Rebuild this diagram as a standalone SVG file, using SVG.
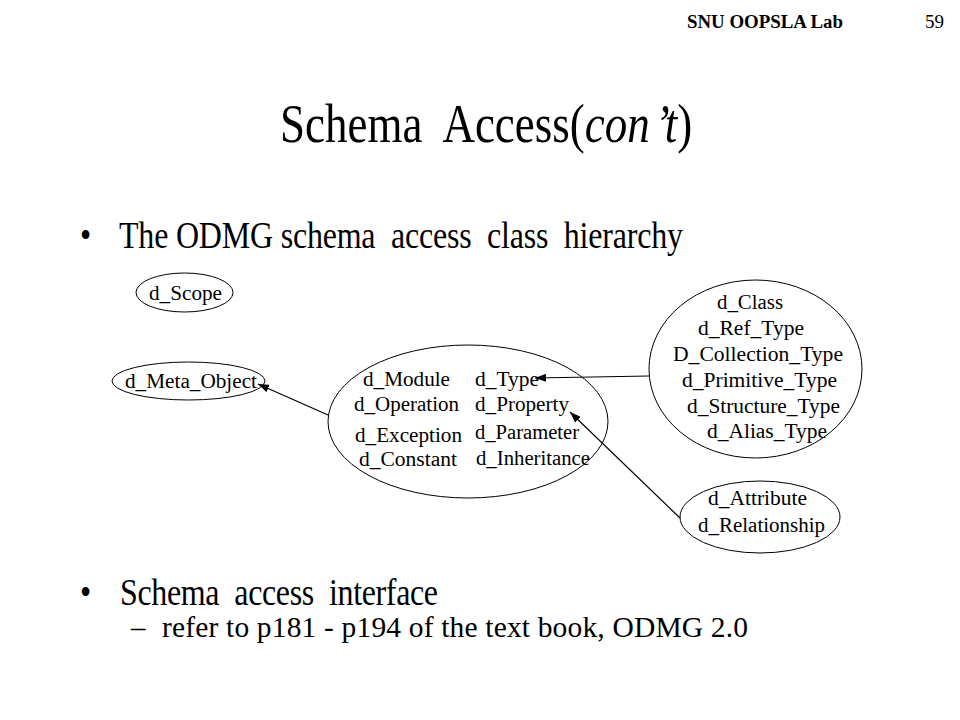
<svg xmlns="http://www.w3.org/2000/svg" width="960" height="720" viewBox="0 0 960 720">
<style>
text{font-family:"Liberation Serif","Times New Roman",serif;fill:#000}
.n{font-size:20px}
.node ellipse{fill:none;stroke:#000;stroke-width:1}
.edge{fill:none;stroke:#000;stroke-width:1.2}
</style>
<defs>
<marker id="ah" markerUnits="userSpaceOnUse" markerWidth="12" markerHeight="8" refX="11" refY="4" orient="auto">
<path d="M0,0 L11,4 L0,8 z" fill="#000"/>
</marker>
</defs>
<rect width="960" height="720" fill="#fff"/>
<text x="687" y="28" font-size="18" font-weight="bold" textLength="156" lengthAdjust="spacingAndGlyphs">SNU OOPSLA Lab</text>
<text x="925" y="28" font-size="19">59</text>
<text transform="translate(280,142) scale(1,1.24)" x="0" y="0" font-size="45" xml:space="preserve">Schema  Access(<tspan font-style="italic">con<tspan dx="5">’t</tspan></tspan>)</text>
<text transform="translate(80,248) scale(1,1.2)" x="0" y="0" font-size="32">•</text>
<text transform="translate(119,248) scale(1,1.2)" x="0" y="0" font-size="32" textLength="564" lengthAdjust="spacing" xml:space="preserve">The ODMG schema  access  class  hierarchy</text>
<text transform="translate(80,605) scale(1,1.2)" x="0" y="0" font-size="32">•</text>
<text transform="translate(120,605) scale(1,1.2)" x="0" y="0" font-size="32" textLength="318" lengthAdjust="spacing" xml:space="preserve">Schema  access  interface</text>
<text x="131" y="637" font-size="29">–</text>
<text x="162" y="637" font-size="29.5" textLength="586" lengthAdjust="spacing">refer to p181 - p194 of the text book, ODMG 2.0</text>

<g id="d_Scope" class="node">
<ellipse cx="184.5" cy="292.5" rx="48.5" ry="19.5"/>
<text class="n" x="149" y="300" textLength="73" lengthAdjust="spacingAndGlyphs">d_Scope</text>
</g>
<g id="d_Meta_Object" class="node">
<ellipse cx="188.5" cy="381" rx="76.5" ry="19"/>
<text class="n" x="125" y="388" textLength="132" lengthAdjust="spacingAndGlyphs">d_Meta_Object</text>
</g>
<g id="core" class="node">
<ellipse cx="468" cy="421.5" rx="140" ry="76.5"/>
<text class="n" x="363" y="386" textLength="87" lengthAdjust="spacingAndGlyphs">d_Module</text>
<text class="n" x="475" y="386" textLength="64" lengthAdjust="spacingAndGlyphs">d_Type</text>
<text class="n" x="354" y="411" textLength="105" lengthAdjust="spacingAndGlyphs">d_Operation</text>
<text class="n" x="475" y="411" textLength="94" lengthAdjust="spacingAndGlyphs">d_Property</text>
<text class="n" x="355" y="442" textLength="107" lengthAdjust="spacingAndGlyphs">d_Exception</text>
<text class="n" x="475" y="439" textLength="104" lengthAdjust="spacingAndGlyphs">d_Parameter</text>
<text class="n" x="359" y="466" textLength="98" lengthAdjust="spacingAndGlyphs">d_Constant</text>
<text class="n" x="476" y="465" textLength="114" lengthAdjust="spacingAndGlyphs">d_Inheritance</text>
</g>
<g id="types" class="node">
<ellipse cx="755.5" cy="369" rx="106.5" ry="89"/>
<text class="n" x="717" y="309" textLength="66" lengthAdjust="spacingAndGlyphs">d_Class</text>
<text class="n" x="698" y="335" textLength="106" lengthAdjust="spacingAndGlyphs">d_Ref_Type</text>
<text class="n" x="673" y="361" textLength="170" lengthAdjust="spacingAndGlyphs">D_Collection_Type</text>
<text class="n" x="682" y="387" textLength="155" lengthAdjust="spacingAndGlyphs">d_Primitive_Type</text>
<text class="n" x="687" y="413" textLength="153" lengthAdjust="spacingAndGlyphs">d_Structure_Type</text>
<text class="n" x="707" y="438" textLength="120" lengthAdjust="spacingAndGlyphs">d_Alias_Type</text>
</g>
<g id="props" class="node">
<ellipse cx="760" cy="517" rx="80" ry="36"/>
<text class="n" x="708" y="505" textLength="99" lengthAdjust="spacingAndGlyphs">d_Attribute</text>
<text class="n" x="698" y="532" textLength="127" lengthAdjust="spacingAndGlyphs">d_Relationship</text>
</g>

<g id="connectors">
<line class="edge" x1="328" y1="415" x2="258" y2="384" marker-end="url(#ah)"/>
<line class="edge" x1="649" y1="376" x2="535" y2="378" marker-end="url(#ah)"/>
<line class="edge" x1="680" y1="518" x2="570" y2="412" marker-end="url(#ah)"/>
</g>
</svg>
